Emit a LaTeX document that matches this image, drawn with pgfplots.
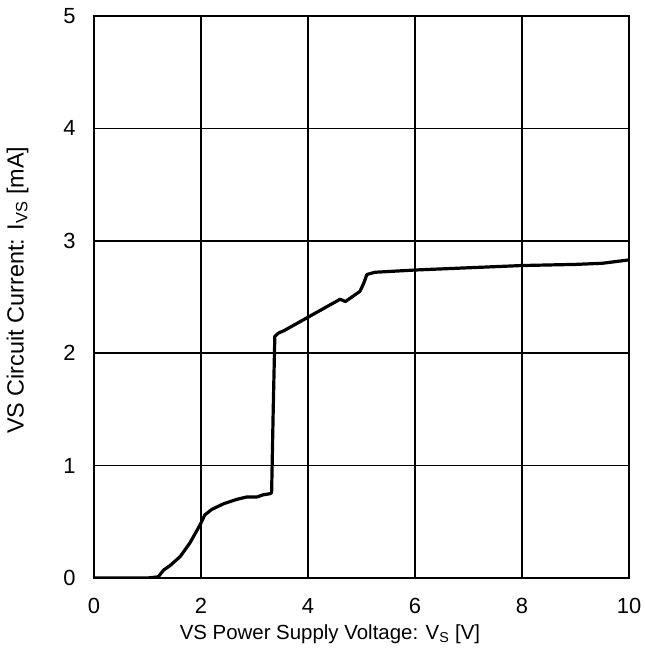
\documentclass[border=0pt]{standalone}
\usepackage{pgfplots}
\pgfplotsset{compat=1.18}
\usepackage{fontspec}
\setmainfont{Liberation Sans}
\begin{document}
\begin{tikzpicture}
\begin{axis}[
  scale only axis,
  width=535bp, height=562bp,
  xmin=0, xmax=10, ymin=0, ymax=5,
  xtick={0,2,...,10}, ytick={0,1,...,5},
  grid=major,
  major grid style={black, line width=1.6bp},
  axis line style={black, line width=2.6bp},
  major tick length=0pt,
  /pgf/number format/assume math mode=true,
  ticklabel style={font=\fontsize{22}{26}\selectfont},
  yticklabel style={xshift=-15bp},
  xticklabel style={yshift=-17bp},
  xlabel={VS Power Supply Voltage: V\textsubscript{S} [V]},
  ylabel={VS Circuit Current: I\textsubscript{VS} [mA]},
  xlabel style={font=\fontsize{20.5}{24}\selectfont, at={(axis description cs:0.441,0)}, anchor=north, yshift=-43bp},
  ylabel style={font=\fontsize{23.5}{27}\selectfont, at={(axis description cs:0,0.512)}, anchor=south, yshift=62bp},
]
\addplot[black, line width=3.2bp, line join=round] coordinates {
(0,0) (1.0,0) (1.2,0.01) (1.3,0.07) (1.42,0.11) (1.61,0.19) (1.79,0.31)
(1.98,0.47) (2.07,0.56) (2.2,0.61) (2.42,0.66) (2.67,0.70) (2.85,0.72)
(3.04,0.72) (3.16,0.74) (3.29,0.75) (3.32,0.76) (3.35,1.5) (3.38,2.15)
(3.45,2.18) (3.55,2.20) (4.0,2.32) (4.60,2.48) (4.70,2.46) (4.97,2.55)
(5.04,2.62) (5.10,2.70) (5.25,2.72) (6.0,2.74) (7.0,2.76) (8.0,2.78)
(9.0,2.79) (9.5,2.80) (10,2.83)
};
\end{axis}
\useasboundingbox (-94bp,-84bp) rectangle (547bp,578bp);
\end{tikzpicture}
\end{document}
